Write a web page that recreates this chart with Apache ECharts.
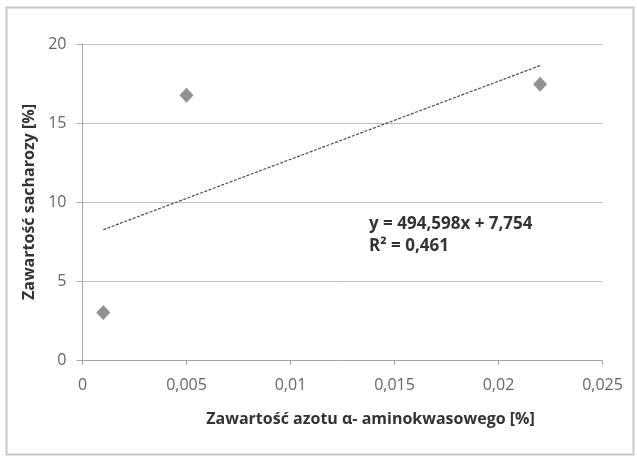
<!DOCTYPE html>
<html><head><meta charset="utf-8">
<script src="https://cdn.jsdelivr.net/npm/echarts@6/dist/echarts.min.js"></script>
<style>html,body{margin:0;padding:0;background:#fff}#c{width:637px;height:458px}</style>
</head><body><div id="c"></div>
<script>
const xValues = [0.001, 0.005, 0.022];
const yValues = [3.0, 16.75, 17.45];
const xTicks = ['0', '0,005', '0,01', '0,015', '0,02', '0,025'];
const trendSlope = 494.598;
const trendIntercept = 7.754;
const trendRange = [0.001, 0.022];
const eqLabel = 'y = 494,598x + 7,754';
const r2Label = 'R² = 0,461';
const xTitle = 'Zawartość azotu α- aminokwasowego [%]';
const yTitle = 'Zawartość sacharozy [%]';

const font = "'Open Sans', 'Liberation Sans', sans-serif";
const chart = echarts.init(document.getElementById('c'), null, {renderer: 'canvas'});
const points = xValues.map((x, i) => [x, yValues[i]]);
const trend = trendRange.map(x => [x, trendSlope * x + trendIntercept]);
chart.setOption({
  animation: false,
  backgroundColor: '#fff',
  grid: {left: 82.5, right: 34.5, top: 44, bottom: 98},
  xAxis: {
    type: 'value', min: 0, max: 0.025, interval: 0.005,
    axisLine: {show: true, lineStyle: {color: '#a6a6a6', width: 1}},
    axisTick: {show: true, length: 5, lineStyle: {color: '#a6a6a6'}},
    splitLine: {show: false},
    axisLabel: {color: '#666', fontFamily: font, fontSize: 16, margin: 17,
      formatter: (v) => xTicks[Math.round(v / 0.005)]},
    name: xTitle, nameLocation: 'middle', nameGap: 51,
    nameTextStyle: {color: '#333', fontFamily: font, fontSize: 16, fontWeight: 'bold', padding: [0, 0, 0, 56]}
  },
  yAxis: {
    type: 'value', min: 0, max: 20, interval: 5,
    axisLine: {show: true, lineStyle: {color: '#a6a6a6', width: 1}},
    axisTick: {show: true, length: 6, lineStyle: {color: '#a6a6a6'}},
    splitLine: {show: true, lineStyle: {color: '#bfbfbf', width: 1}},
    axisLabel: {color: '#666', fontFamily: font, fontSize: 16, margin: 16},
    name: yTitle, nameLocation: 'middle', nameGap: 44,
    nameTextStyle: {color: '#333', fontFamily: font, fontSize: 16, fontWeight: 'bold'}
  },
  graphic: [
    {type: 'rect', left: 4, top: 5, shape: {width: 627, height: 447},
      style: {fill: 'none', stroke: '#c8c8c8', lineWidth: 2}},
    {type: 'text', left: 369, top: 216, style: {text: eqLabel, fill: '#333', font: "bold 17px " + font}},
    {type: 'text', left: 369, top: 238, style: {text: r2Label, fill: '#333', font: "bold 17px " + font}}
  ],
  series: [
    {type: 'line', data: trend, showSymbol: false, symbol: 'none',
      lineStyle: {color: '#4d4d4d', width: 1.2, type: [3, 1.5]}, silent: true, z: 2},
    {type: 'scatter', data: points, symbol: 'diamond', symbolSize: [14, 15],
      itemStyle: {color: '#757575'}, z: 3}
  ]
});
</script></body></html>
